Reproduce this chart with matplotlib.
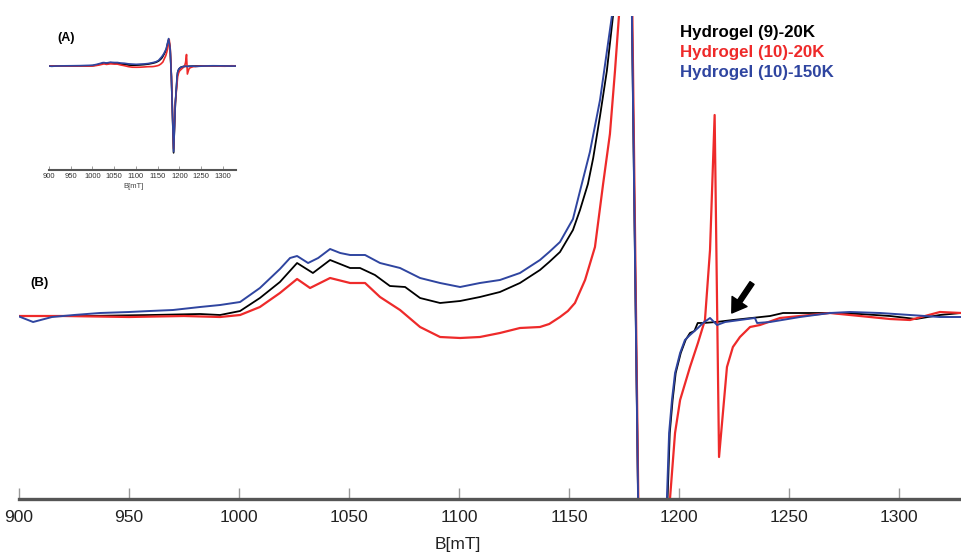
import matplotlib
matplotlib.use("Agg")
import matplotlib.pyplot as plt

plt.rcParams['font.family'] = ['Liberation Sans', 'DejaVu Sans']

# ---- data (B in mT, intensity in arbitrary units, baseline = 0) ----
b_black = [899.5, 930, 960, 982.3, 991.4, 1000.5, 1009.5, 1018.6, 1026.4, 1033.6, 1041.4, 1050.5,
           1055, 1061.8, 1068.6, 1075.5, 1082.3, 1091.4, 1100.5, 1109.5, 1118.6, 1127.7, 1136.8,
           1141, 1145.9, 1151.8, 1155, 1158.6, 1161, 1164.1, 1167.2, 1170, 1173, 1175.5, 1178.6, 1181.4,
           1186.5, 1190.5, 1194.8, 1195.8, 1197.1, 1198.5, 1200.8, 1203, 1205, 1207, 1208.5, 1211,
           1217, 1224.5, 1233, 1241.4, 1247.3, 1255, 1268.6, 1282.3, 1295.9, 1307.7, 1318.6, 1328.2]
i_black = [0, 0, 1, 2, 1, 5, 18, 34, 53, 43, 56, 48,
           48, 41, 30, 29, 18, 13, 15, 19, 24, 33, 46,
           54, 64, 86, 106, 132, 158, 200, 245, 300, 400, 470, 300, -183,
           -1520, -660, -183, -117, -84, -57, -37, -24, -17, -15, -7, -7,
           -6, -4, -2, 0, 3, 3, 3, 2, 0, -3, 1, 3]

b_red = [899.5, 920, 950, 975, 991.4, 1000.5, 1009.5, 1018.6, 1026.4, 1032.3, 1041.4, 1050.5,
         1057.3, 1064.1, 1073.2, 1082.3, 1091.4, 1100.5, 1109.5, 1118.6, 1127.7, 1136.8, 1141,
         1145.9, 1149.5, 1152.7, 1157.3, 1161.8, 1165.5, 1168.6, 1170.9, 1172.7, 1175, 1176.5,
         1178.8, 1181.5, 1186.5, 1190.5, 1195.9, 1198.2, 1200.5, 1205, 1208.6, 1211.8, 1214.1,
         1216.2, 1218.2, 1221.8, 1224.5, 1227.7, 1232.3, 1236.8, 1245.9, 1255, 1268.6, 1282.3,
         1295.9, 1305, 1318.6, 1328.2]
i_red = [0, 0, -1, 0, -1, 1, 9, 23, 37, 28, 38, 33,
         33, 19, 6, -11, -21, -22, -21, -17, -12, -11, -8,
         -1, 5, 13, 36, 69, 132, 182, 245, 300, 400, 460,
         300, -183, -1450, -640, -183, -117, -84, -51, -27, -4, 66,
         201, -141, -51, -31, -21, -11, -9, -2, 0, 3, 0,
         -3, -4, 4, 3]

b_blue = [899.5, 906.4, 915, 925, 936.8, 950, 959.5, 970, 982.3, 991.4, 1000.5, 1009.5, 1018.6,
          1023.2, 1026.4, 1031.4, 1036, 1041.4, 1046, 1050.5, 1057.3, 1064.1, 1073.2, 1082.3,
          1091.4, 1100.5, 1109.5, 1118.6, 1127.7, 1136.8, 1141, 1145.9, 1151.8, 1155, 1159.5,
          1164.1, 1169.5, 1172.5, 1175, 1178.6, 1181.4, 1186.5, 1190.5, 1194.5, 1195.5, 1196.8,
          1198.2, 1200.5, 1202.7, 1205, 1208.6, 1210.9, 1214.1, 1217.3, 1221, 1227.7, 1234.5,
          1235.5, 1241.4, 1255, 1268.6, 1277.7, 1291.4, 1305, 1318.6, 1328.2]
i_blue = [0, -6, -1, 1, 3, 4, 5, 6, 9, 11, 14, 28, 47,
          58, 60, 53, 58, 67, 63, 61, 61, 53, 48, 38,
          33, 29, 33, 36, 43, 56, 64, 74, 97, 125, 164,
          216, 300, 400, 480, 300, -183, -1500, -650, -183, -117, -84,
          -57, -37, -24, -19, -12, -7, -2, -9, -6, -4, -2,
          -7, -6, -1, 3, 4, 3, 1, -1, -1]

labels = ["Hydrogel (9)-20K", "Hydrogel (10)-20K", "Hydrogel (10)-150K"]
colors = ["#000000", "#EE2A2A", "#2F45A0"]
ticks = [900, 950, 1000, 1050, 1100, 1150, 1200, 1250, 1300]

series = [(b_black, i_black), (b_red, i_red), (b_blue, i_blue)]

W, H = 961, 554
fig = plt.figure(figsize=(W / 100, H / 100), dpi=100)

def rect(x0, y0, x1, y1):
    return [x0 / W, 1 - y1 / H, (x1 - x0) / W, (y1 - y0) / H]

# ---- main axes ----
ax = fig.add_axes(rect(19, 16, 961, 499))
lws = [1.3, 1.6, 1.4]
for (b, i), c, lw in zip(series, colors, lws):
    ax.plot(b, i, color=c, lw=lw)
ax.set_xlim(900, 900 + (961 - 19) / 2.2)
ax.set_ylim(-183, 300)
for s in ["left", "right", "top"]:
    ax.spines[s].set_visible(False)
ax.spines["bottom"].set_linewidth(2.4)
ax.spines["bottom"].set_color("#555555")
ax.set_yticks([])
ax.set_xticks(ticks)
ax.tick_params(axis="x", direction="in", length=8, width=1, color="#9a9a9a",
               labelsize=12.5, labelcolor="#222222", pad=8)
ax.set_xlabel("B[mT]", fontsize=12.5, color="#222222")
ax.xaxis.set_label_coords(0.466, -0.078)

ax.annotate("", xy=(1224, 3), xytext=(1233.2, 33),
            arrowprops=dict(facecolor="black", edgecolor="black", width=3.5,
                            headwidth=13, headlength=10, shrink=0))

# ---- legend text ----
for k, (lab, c) in enumerate(zip(labels, colors)):
    fig.text(680 / W, 1 - (32 + 20 * k) / H, lab, color=c, fontsize=12.2,
             fontweight="bold", va="center", ha="left")

fig.text(30 / W, 1 - 283 / H, "(B)", fontsize=9.5, fontweight="bold", va="center")

# ---- inset ----
axi = fig.add_axes(rect(49, 30, 236, 170))
for (b, i), c in zip(series, colors):
    axi.plot(b, i, color=c, lw=1.2)
axi.set_xlim(900, 1330)
axi.set_ylim(-(170 - 66) * 17.5, (66 - 30) * 17.5)
for s in ["left", "right", "top"]:
    axi.spines[s].set_visible(False)
axi.spines["bottom"].set_linewidth(1.5)
axi.spines["bottom"].set_color("#555555")
axi.set_yticks([])
axi.set_xticks(ticks)
axi.tick_params(axis="x", direction="in", length=3, width=0.7, color="#9a9a9a",
                labelsize=5.5, labelcolor="#333333", pad=2)
axi.set_xlabel("B[mT]", fontsize=5.5, color="#444444")
axi.xaxis.set_label_coords(0.45, -0.09)
fig.text(57 / W, 1 - 38 / H, "(A)", fontsize=9, fontweight="bold", va="center")

fig.savefig("out.png", dpi=100)
